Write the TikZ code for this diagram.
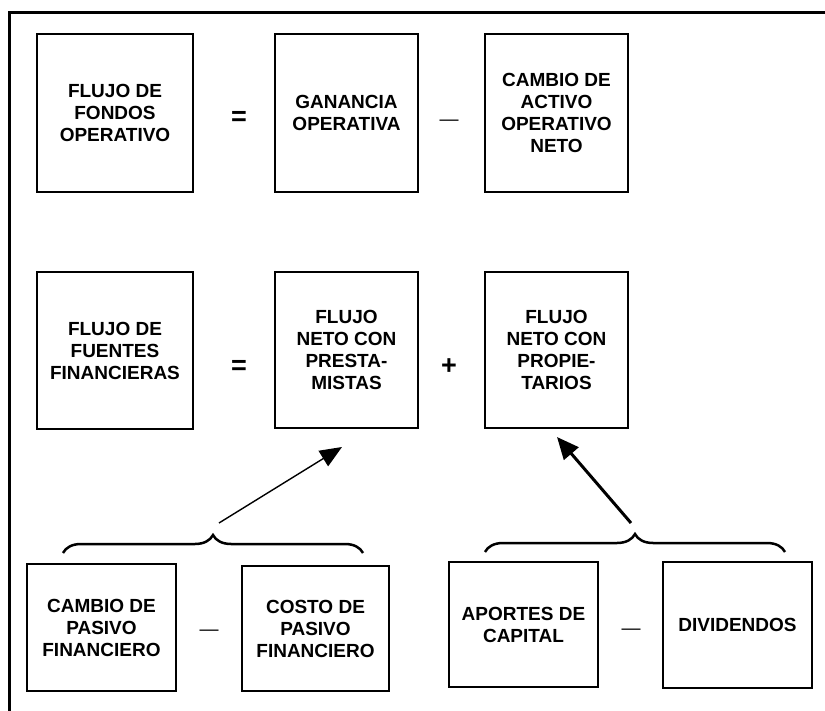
\documentclass[tikz,border=0pt]{standalone}
\usepackage{fontspec}
\setmainfont{Liberation Sans}
\usetikzlibrary{arrows.meta,decorations.pathreplacing}
\begin{document}
\begin{tikzpicture}[x=1pt,y=-1pt,
  box/.style={draw, line width=1.4pt, align=center, inner sep=0pt,
    font=\fontsize{19}{22}\selectfont\bfseries},
  opsym/.style={inner sep=0pt, font=\fontsize{27}{28}\selectfont\bfseries},
  dashsym/.style={inner sep=0pt, font=\fontsize{19}{22}\selectfont},
  bracestyle/.style={decorate, decoration={brace, amplitude=18pt}, line width=2.5pt},
  thinarrow/.style={line width=1.4pt, -{Triangle[length=22pt,width=18pt]}},
  thickarrow/.style={line width=3pt, -{Triangle[length=22pt,width=19pt]}}
]
\useasboundingbox (0,0) rectangle (825,711);
\fill[white] (0,0) rectangle (825,711);
% frame (top and left only)
\draw[line width=3.6pt] (9.5,711) -- (9.5,12.5) -- (825,12.5);

% row 1
\node[box, minimum width=156pt, minimum height=158pt] (fondos) at (115,113) {FLUJO DE\\FONDOS\\OPERATIVO};
\node[box, minimum width=143pt, minimum height=158pt] (ganancia) at (346.5,113) {GANANCIA\\OPERATIVA};
\node[box, minimum width=143pt, minimum height=158pt] (activo) at (556.5,113) {CAMBIO DE\\ACTIVO\\OPERATIVO\\NETO};
\node[opsym] (eq1) at (239,118) {=};
\node[dashsym] (m1) at (449,123) {—};

% row 2
\node[box, minimum width=156pt, minimum height=157pt] (fuentes) at (115,350.5) {FLUJO DE\\FUENTES\\FINANCIERAS};
\node[box, minimum width=143pt, minimum height=156pt] (prest) at (346.5,350) {FLUJO\\NETO CON\\PRESTA-\\MISTAS};
\node[box, minimum width=143pt, minimum height=156pt] (prop) at (556.5,350) {FLUJO\\NETO CON\\PROPIE-\\TARIOS};
\node[opsym] (eq2) at (239,367) {=};
\node[opsym] (plus) at (449,367) {+};

% row 3
\node[box, minimum width=149pt, minimum height=127pt] (cambio) at (101.5,627.5) {CAMBIO DE\\PASIVO\\FINANCIERO};
\node[box, minimum width=147pt, minimum height=125pt] (costo) at (315.5,628.5) {COSTO DE\\PASIVO\\FINANCIERO};
\node[box, minimum width=149pt, minimum height=125pt] (aportes) at (523.5,624.5) {APORTES DE\\CAPITAL};
\node[box, minimum width=149pt, minimum height=126pt] (divid) at (737.5,625) {DIVIDENDOS};
\node[dashsym] (m2) at (209,633) {—};
\node[dashsym] (m3) at (631,632) {—};

% braces
\coordinate (lbA) at (63,553);
\coordinate (lbB) at (363,553);
\coordinate (rbA) at (485,552);
\coordinate (rbB) at (785,552);
\draw[bracestyle] (lbA) -- (lbB);
\draw[bracestyle] (rbA) -- (rbB);

% arrows
\coordinate (la0) at (219,523);
\coordinate (la1) at (342,447);
\coordinate (ra0) at (631,523);
\coordinate (ra1) at (557,437);
\draw[thinarrow] (la0) -- (la1);
\draw[thickarrow] (ra0) -- (ra1);
\end{tikzpicture}
\end{document}
